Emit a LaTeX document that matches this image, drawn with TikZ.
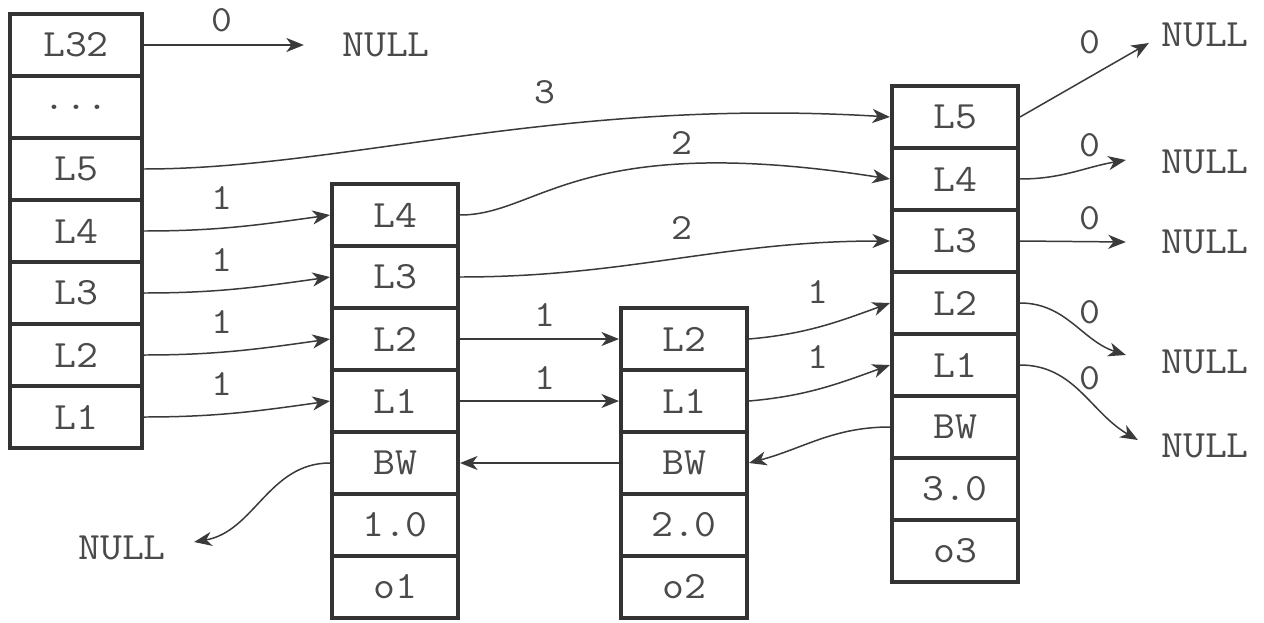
\documentclass[tikz,border=0pt]{standalone}
\usepackage{fontspec}
\setmonofont[FakeStretch=1.1]{Latin Modern Mono}
\usetikzlibrary{calc,arrows.meta}
\definecolor{boxc}{HTML}{333333}
\definecolor{linec}{HTML}{3A3A3A}
\definecolor{txtc}{HTML}{4A4A4A}
\begin{document}
\begin{tikzpicture}[x=0.02cm,y=-0.02cm,
  cell/.style={draw=boxc, line width=2.3pt, minimum width=2.52cm, minimum height=1.24cm,
    inner sep=0pt, font=\fontsize{22}{26}\selectfont\ttfamily, text=txtc},
  hcell/.style={cell, minimum width=2.64cm},
  lbl/.style={font=\fontsize{21}{25}\selectfont\ttfamily, text=txtc, inner sep=0pt},
  nul/.style={font=\fontsize{22}{26}\selectfont\ttfamily, text=txtc, inner sep=0pt},
  conn/.style={draw=linec, line width=0.85pt, -{Stealth[length=10pt,width=8pt,inset=3pt]}},
]
\useasboundingbox[fill=white] (0,0) rectangle (1264,622);

% header
\node[hcell] (hL32) at (76,45) {L32};
\node[hcell] (hdots) at (76,107) {...};
\node[hcell] (hL5) at (76,169) {L5};
\node[hcell] (hL4) at (76,231) {L4};
\node[hcell] (hL3) at (76,293) {L3};
\node[hcell] (hL2) at (76,355) {L2};
\node[hcell] (hL1) at (76,417) {L1};

% o1
\node[cell] (aL4) at (395,215) {L4};
\node[cell] (aL3) at (395,277) {L3};
\node[cell] (aL2) at (395,339) {L2};
\node[cell] (aL1) at (395,401) {L1};
\node[cell] (aBW) at (395,463) {BW};
\node[cell] (aV) at (395,525) {1.0};
\node[cell] (aO) at (395,587) {o1};

% o2
\node[cell] (bL2) at (684,339) {L2};
\node[cell] (bL1) at (684,401) {L1};
\node[cell] (bBW) at (684,463) {BW};
\node[cell] (bV) at (684,525) {2.0};
\node[cell] (bO) at (684,587) {o2};

% o3
\node[cell] (cL5) at (955,117) {L5};
\node[cell] (cL4) at (955,179) {L4};
\node[cell] (cL3) at (955,241) {L3};
\node[cell] (cL2) at (955,303) {L2};
\node[cell] (cL1) at (955,365) {L1};
\node[cell] (cBW) at (955,427) {BW};
\node[cell] (cV) at (955,489) {3.0};
\node[cell] (cO) at (955,551) {o3};

% NULLs
\node[nul] (n0) at (386,45) {NULL};
\node[nul] (n1) at (1205,35) {NULL};
\node[nul] (n2) at (1205,162) {NULL};
\node[nul] (n3) at (1205,242) {NULL};
\node[nul] (n4) at (1205,362) {NULL};
\node[nul] (n5) at (1205,446) {NULL};
\node[nul] (n6) at (122,548) {NULL};

% labels
\node[lbl] (t0) at (222,20) {0};
\node[lbl] (t3) at (545,92) {3};
\node[lbl] (t2a) at (682,143) {2};
\node[lbl] (t2b) at (682,228) {2};
\node[lbl] (t1a) at (222,198) {1};
\node[lbl] (t1b) at (222,260) {1};
\node[lbl] (t1c) at (222,322) {1};
\node[lbl] (t1d) at (222,384) {1};
\node[lbl] (t1e) at (545,315) {1};
\node[lbl] (t1f) at (545,378) {1};
\node[lbl] (t1g) at (818,292) {1};
\node[lbl] (t1h) at (818,357) {1};
\node[lbl] (z1) at (1090,42) {0};
\node[lbl] (z2) at (1090,145) {0};
\node[lbl] (z3) at (1090,218) {0};
\node[lbl] (z4) at (1090,312) {0};
\node[lbl] (z5) at (1090,378) {0};

% connectors
\draw[conn] (hL32.east) -- ($(n0.west)+(-38,0)$);
\draw[conn] (hL5.east) .. controls +(200,0) and +(-330,-20) .. (cL5.west);
\draw[conn] (hL4.east) to[out=0,in=188] (aL4.west);
\draw[conn] (hL3.east) to[out=0,in=188] (aL3.west);
\draw[conn] (hL2.east) to[out=0,in=188] (aL2.west);
\draw[conn] (hL1.east) to[out=0,in=188] (aL1.west);
\draw[conn] (aL4.east) .. controls +(80,0) and +(-312,-49) .. (cL4.west);
\draw[conn] (aL3.east) to[out=0,in=180] (cL3.west);
\draw[conn] (aL2.east) -- (bL2.west);
\draw[conn] (aL1.east) -- (bL1.west);
\draw[conn] (bBW.west) -- (aBW.east);
\draw[conn] (bL2.east) to[out=5,in=200] (cL2.west);
\draw[conn] (bL1.east) to[out=5,in=200] (cL1.west);
\draw[conn] (cBW.west) to[out=180,in=15] (bBW.east);
\draw[conn] (aBW.west) to[out=180,in=10] ($(n6.east)+(28,-6)$);
\draw[conn] (cL5.east) -- ($(n1.west)+(-12,8)$);
\draw[conn] (cL4.east) to[out=0,in=190] ($(n2.west)+(-35,-2)$);
\draw[conn] (cL3.east) -- ($(n3.west)+(-35,0)$);
\draw[conn] (cL2.east) to[out=0,in=162] ($(n4.west)+(-35,-7)$);
\draw[conn] (cL1.east) to[out=0,in=150] ($(n5.west)+(-23,-6)$);
\end{tikzpicture}
\end{document}
